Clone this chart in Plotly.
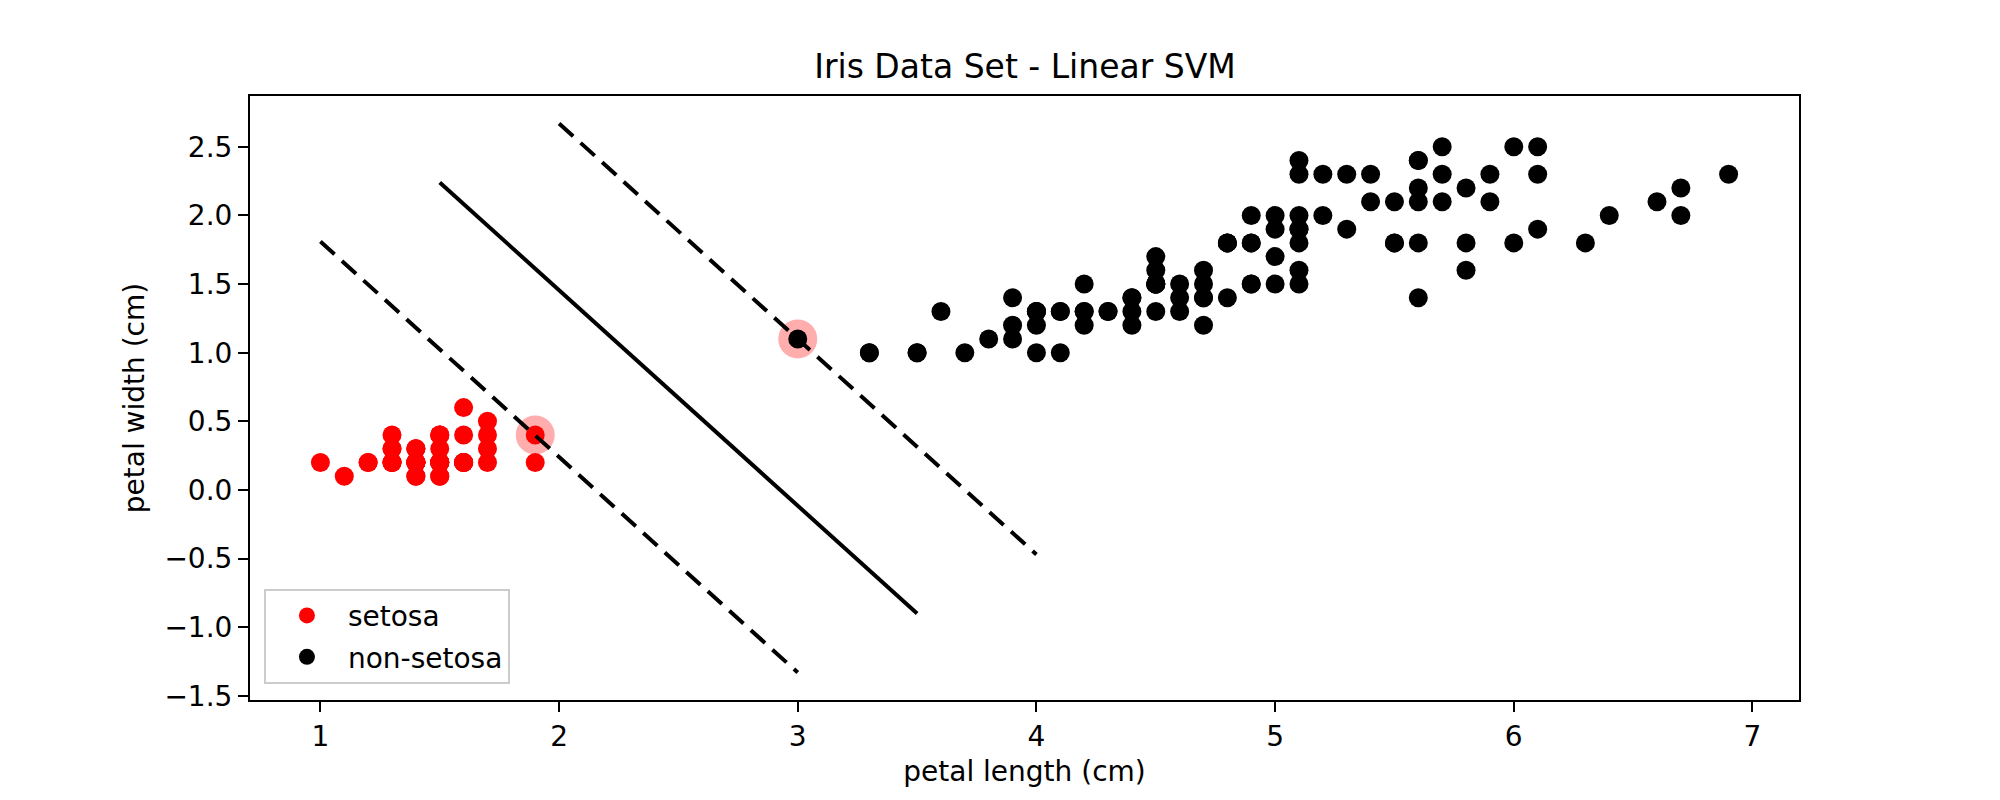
import plotly.graph_objects as go

# iris petal measurements
setosa_length = [1.4, 1.4, 1.3, 1.5, 1.4, 1.7, 1.4, 1.5, 1.4, 1.5,
                 1.5, 1.6, 1.4, 1.1, 1.2, 1.5, 1.3, 1.4, 1.7, 1.5,
                 1.7, 1.5, 1.0, 1.7, 1.9, 1.6, 1.6, 1.5, 1.4, 1.6,
                 1.6, 1.5, 1.5, 1.4, 1.5, 1.2, 1.3, 1.4, 1.3, 1.5,
                 1.3, 1.3, 1.3, 1.6, 1.9, 1.4, 1.6, 1.4, 1.5, 1.4]
setosa_width = [0.2, 0.2, 0.2, 0.2, 0.2, 0.4, 0.3, 0.2, 0.2, 0.1,
                0.2, 0.2, 0.1, 0.1, 0.2, 0.4, 0.4, 0.3, 0.3, 0.3,
                0.2, 0.4, 0.2, 0.5, 0.2, 0.2, 0.4, 0.2, 0.2, 0.2,
                0.2, 0.4, 0.1, 0.2, 0.2, 0.2, 0.2, 0.1, 0.2, 0.2,
                0.3, 0.3, 0.2, 0.6, 0.4, 0.3, 0.2, 0.2, 0.2, 0.2]

other_length = [4.7, 4.5, 4.9, 4.0, 4.6, 4.5, 4.7, 3.3, 4.6, 3.9,
                3.5, 4.2, 4.0, 4.7, 3.6, 4.4, 4.5, 4.1, 4.5, 3.9,
                4.8, 4.0, 4.9, 4.7, 4.3, 4.4, 4.8, 5.0, 4.5, 3.5,
                3.8, 3.7, 3.9, 5.1, 4.5, 4.5, 4.7, 4.4, 4.1, 4.0,
                4.4, 4.6, 4.0, 3.3, 4.2, 4.2, 4.2, 4.3, 3.0, 4.1,
                6.0, 5.1, 5.9, 5.6, 5.8, 6.6, 4.5, 6.3, 5.8, 6.1,
                5.1, 5.3, 5.5, 5.0, 5.1, 5.3, 5.5, 6.7, 6.9, 5.0,
                5.7, 4.9, 6.7, 4.9, 5.7, 6.0, 4.8, 4.9, 5.6, 5.8,
                6.1, 6.4, 5.6, 5.1, 5.6, 6.1, 5.6, 5.5, 4.8, 5.4,
                5.6, 5.1, 5.1, 5.9, 5.7, 5.2, 5.0, 5.2, 5.4, 5.1]
other_width = [1.4, 1.5, 1.5, 1.3, 1.5, 1.3, 1.6, 1.0, 1.3, 1.4,
               1.0, 1.5, 1.0, 1.4, 1.3, 1.4, 1.5, 1.0, 1.5, 1.1,
               1.8, 1.3, 1.5, 1.2, 1.3, 1.4, 1.4, 1.7, 1.5, 1.0,
               1.1, 1.0, 1.2, 1.6, 1.5, 1.6, 1.5, 1.3, 1.3, 1.3,
               1.2, 1.4, 1.2, 1.0, 1.3, 1.2, 1.3, 1.3, 1.1, 1.3,
               2.5, 1.9, 2.1, 1.8, 2.2, 2.1, 1.7, 1.8, 1.8, 2.5,
               2.0, 1.9, 2.1, 2.0, 2.4, 2.3, 1.8, 2.2, 2.3, 1.5,
               2.3, 2.0, 2.0, 1.8, 2.1, 1.8, 1.8, 1.8, 2.1, 1.6,
               1.9, 2.0, 2.2, 1.5, 1.4, 2.3, 2.4, 1.8, 1.8, 2.1,
               2.4, 2.3, 1.9, 2.3, 2.5, 2.3, 1.9, 2.0, 2.3, 1.8]

# support vectors
sv_length = [1.9, 3.0]
sv_width = [0.4, 1.1]

# decision boundary and margins
boundary_x = [1.5, 3.5]
boundary_y = [2.24, -0.90]
margin_lo_x = [1.0, 3.0]
margin_lo_y = [1.81, -1.33]
margin_hi_x = [2.0, 4.0]
margin_hi_y = [2.67, -0.47]

FONT = "DejaVu Sans"

fig = go.Figure()

fig.add_trace(go.Scatter(x=sv_length, y=sv_width, mode="markers",
                         marker=dict(size=39, color="rgba(255,0,0,0.32)"),
                         showlegend=False, hoverinfo="skip"))
fig.add_trace(go.Scatter(x=setosa_length, y=setosa_width, mode="markers",
                         name="setosa", legendgroup="a",
                         marker=dict(size=19, color="red")))
fig.add_trace(go.Scatter(x=other_length, y=other_width, mode="markers",
                         name="non-setosa", legendgroup="b",
                         marker=dict(size=19, color="black")))

for xs, ys, dash in [(margin_lo_x, margin_lo_y, "19px,10px"),
                     (boundary_x, boundary_y, "solid"),
                     (margin_hi_x, margin_hi_y, "19px,10px")]:
    fig.add_trace(go.Scatter(x=xs, y=ys, mode="lines", showlegend=False,
                             line=dict(color="black", width=4, dash=dash)))

axis_common = dict(showline=True, linecolor="black", linewidth=2, mirror=True,
                   ticks="outside", ticklen=10, tickwidth=2, tickcolor="black",
                   showgrid=False, zeroline=False,
                   tickfont=dict(family=FONT, size=28, color="black"))

# page body adds an 8px offset, so margins are shifted to compensate
fig.update_layout(
    width=2000, height=800,
    margin=dict(l=242, r=209, t=88, b=108),
    paper_bgcolor="white", plot_bgcolor="white",
    font=dict(family=FONT, color="black"),
    title=dict(text="Iris Data Set - Linear SVM", x=0.5085, xanchor="center",
               y=0.9275, yanchor="middle", font=dict(family=FONT, size=33, color="black")),
    xaxis=dict(range=[0.705, 7.195], tickmode="array", tickvals=[1, 2, 3, 4, 5, 6, 7],
               title=dict(text="petal length (cm)", standoff=10,
                          font=dict(family=FONT, size=28, color="black")),
               **axis_common),
    yaxis=dict(range=[-1.53, 2.87], tickmode="array",
               tickvals=[-1.5, -1.0, -0.5, 0.0, 0.5, 1.0, 1.5, 2.0, 2.5], tickformat=".1f",
               title=dict(text="petal width (cm)", standoff=12,
                          font=dict(family=FONT, size=28, color="black")),
               **axis_common),
    legend=dict(x=0.009, y=0.027, xanchor="left", yanchor="bottom",
                bgcolor="rgba(255,255,255,0.8)", bordercolor="#cccccc", borderwidth=2,
                font=dict(family=FONT, size=28, color="black"),
                itemwidth=72, traceorder="grouped", tracegroupgap=2),
)

fig.write_html("out.html")
